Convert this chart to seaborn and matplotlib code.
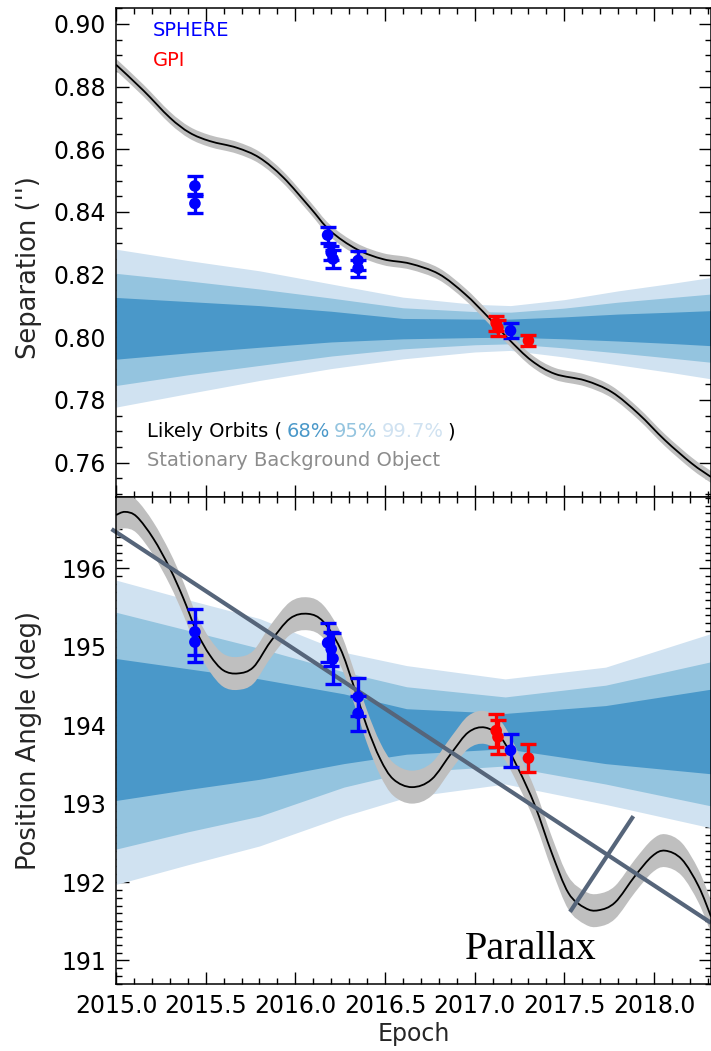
import numpy as np
import pandas as pd
import matplotlib
matplotlib.use("Agg")
import matplotlib.pyplot as plt
import seaborn as sns
from matplotlib.path import Path
from matplotlib.patches import PathPatch
from matplotlib.ticker import MultipleLocator, FormatStrFormatter
from matplotlib.offsetbox import TextArea, HPacker, AnchoredOffsetbox

# ---------------- data ----------------
# Stationary background object track: separation (arcsec)
sep_bg_epoch = [2015.0, 2015.152, 2015.30, 2015.41, 2015.524, 2015.673, 2015.80, 2015.933,
                2016.082, 2016.194, 2016.342, 2016.491, 2016.64, 2016.80, 2016.946, 2017.076,
                2017.188, 2017.318, 2017.448, 2017.616, 2017.765, 2017.913, 2018.062,
                2018.211, 2018.318]
sep_bg = [0.8870, 0.8788, 0.8701, 0.8653, 0.8626, 0.8605, 0.8573, 0.8510,
          0.8414, 0.8340, 0.8281, 0.8249, 0.8235, 0.8202, 0.8138, 0.8064,
          0.7995, 0.7925, 0.7883, 0.7862, 0.7825, 0.7756, 0.7671,
          0.7597, 0.7554]
sep_bg_halfwidth = 0.0019

# Stationary background object track: position angle (deg)
pa_bg_epoch = [2015.0, 2015.05, 2015.115, 2015.208, 2015.30, 2015.375, 2015.45, 2015.524,
               2015.598, 2015.68, 2015.766, 2015.86, 2015.97, 2016.07, 2016.156, 2016.25,
               2016.324, 2016.398, 2016.473, 2016.547, 2016.65, 2016.76, 2016.872, 2016.965,
               2017.058, 2017.15, 2017.244, 2017.337, 2017.43, 2017.523, 2017.616, 2017.69,
               2017.783, 2017.895, 2017.99, 2018.062, 2018.155, 2018.248, 2018.318]
pa_bg = [196.68, 196.72, 196.66, 196.38, 196.00, 195.62, 195.19, 194.89,
         194.70, 194.66, 194.74, 195.06, 195.36, 195.42, 195.32, 194.98,
         194.51, 193.99, 193.57, 193.31, 193.21, 193.31, 193.65, 193.91,
         193.97, 193.83, 193.44, 192.97, 192.37, 191.86, 191.67, 191.64,
         191.74, 192.08, 192.33, 192.40, 192.29, 191.95, 191.56]
pa_bg_halfwidth = 0.21

# Likely-orbit envelopes (68 / 95 / 99.7 %) for separation
sep_band_epoch = [2015.0, 2015.4, 2015.8, 2016.2, 2016.6, 2017.0, 2017.2, 2017.5, 2017.8, 2018.1, 2018.32]
sep_997_hi = [0.8281, 0.8245, 0.8212, 0.8170, 0.8128, 0.8105, 0.8101, 0.8120, 0.8148, 0.8172, 0.8191]
sep_95_hi  = [0.8204, 0.8180, 0.8154, 0.8125, 0.8094, 0.8082, 0.8080, 0.8093, 0.8112, 0.8127, 0.8138]
sep_68_hi  = [0.8127, 0.8114, 0.8101, 0.8083, 0.8060, 0.8058, 0.8058, 0.8065, 0.8074, 0.8080, 0.8085]
sep_68_lo  = [0.7930, 0.7950, 0.7968, 0.7985, 0.7995, 0.7999, 0.8000, 0.7995, 0.7988, 0.7980, 0.7973]
sep_95_lo  = [0.7846, 0.7880, 0.7910, 0.7940, 0.7963, 0.7976, 0.7979, 0.7966, 0.7950, 0.7933, 0.7920]
sep_997_lo = [0.7777, 0.7820, 0.7862, 0.7900, 0.7931, 0.7953, 0.7958, 0.7937, 0.7912, 0.7887, 0.7867]

# Likely-orbit envelopes for position angle
pa_band_epoch = [2015.0, 2015.4, 2015.8, 2016.27, 2016.62, 2017.17, 2017.73, 2018.32]
pa_997_hi = [195.85, 195.60, 195.36, 194.93, 194.76, 194.59, 194.74, 195.17]
pa_95_hi  = [195.44, 195.21, 194.98, 194.68, 194.49, 194.36, 194.51, 194.81]
pa_68_hi  = [194.85, 194.72, 194.59, 194.40, 194.21, 194.15, 194.25, 194.46]
pa_68_lo  = [193.04, 193.18, 193.31, 193.51, 193.63, 193.70, 193.51, 193.38]
pa_95_lo  = [192.42, 192.64, 192.84, 193.21, 193.40, 193.48, 193.25, 192.97]
pa_997_lo = [191.97, 192.22, 192.46, 192.84, 193.08, 193.25, 192.99, 192.69]

# Astrometry
sphere_epoch = [2015.44, 2015.44, 2016.18, 2016.20, 2016.21, 2016.35, 2016.35, 2017.20]
sphere_sep = [0.8483, 0.8427, 0.8326, 0.8270, 0.8250, 0.8245, 0.8220, 0.8021]
sphere_sep_err = [0.0032, 0.0030, 0.0026, 0.0022, 0.0030, 0.0030, 0.0028, 0.0025]
sphere_pa = [195.19, 195.06, 195.05, 194.97, 194.85, 194.36, 194.15, 193.68]
sphere_pa_err = [0.29, 0.25, 0.25, 0.22, 0.32, 0.24, 0.22, 0.21]

gpi_epoch = [2017.12, 2017.13, 2017.30]
gpi_sep = [0.8045, 0.8030, 0.7989]
gpi_sep_err = [0.0024, 0.0025, 0.0018]
gpi_pa = [193.93, 193.85, 193.58]
gpi_pa_err = [0.21, 0.22, 0.18]

# Parallax annotation: linear proper-motion trend and the perpendicular marker
trend_epoch = [2014.975, 2018.318]
trend_pa = [196.50, 191.48]
marker_epoch = [2017.532, 2017.885]
marker_pa = [191.62, 192.84]

# ---------------- style ----------------
sns.set_theme(style="ticks")
plt.rcParams['font.family'] = ['DejaVu Sans']
plt.rcParams['axes.linewidth'] = 1.1

C68, C95, C997 = '#4a98c9', '#94c4df', '#d0e2f1'
BG_BAND = '#bfbfbf'
SLATE = '#56657a'

fig = plt.figure(figsize=(7.11, 10.51), dpi=100)
fig.patch.set_facecolor('white')
ax1 = fig.add_axes([0.1632, 0.5271, 0.8368, 0.4653])
ax2 = fig.add_axes([0.1632, 0.06375, 0.8368, 0.4634])


def smooth_segments(x, y):
    """Cubic Bezier segments passing through every (x, y) knot (Catmull-Rom tangents)."""
    P = np.column_stack([x, y]).astype(float)
    n = len(P)
    verts, codes = [P[0]], [Path.MOVETO]
    for i in range(n - 1):
        p0 = P[i - 1] if i > 0 else P[i]
        p1, p2 = P[i], P[i + 1]
        p3 = P[i + 2] if i + 2 < n else P[i + 1]
        verts += [p1 + (p2 - p0) / 6.0, p2 - (p3 - p1) / 6.0, p2]
        codes += [Path.CURVE4] * 3
    return verts, codes


def draw_envelopes(ax, ep, hi997, hi95, hi68, lo68, lo95, lo997):
    ax.fill_between(ep, lo997, hi997, color=C997, lw=0, zorder=1)
    ax.fill_between(ep, lo95, hi95, color=C95, lw=0, zorder=1.1)
    ax.fill_between(ep, lo68, hi68, color=C68, lw=0, zorder=1.2)


def draw_track(ax, ep, val, hw):
    v = np.asarray(val, dtype=float)
    e = np.asarray(ep, dtype=float)
    up_v, up_c = smooth_segments(e, v + hw)
    lo_v, lo_c = smooth_segments(e[::-1], (v - hw)[::-1])
    lo_c[0] = Path.LINETO
    band = Path(up_v + lo_v + [up_v[0]], up_c + lo_c + [Path.CLOSEPOLY])
    ax.add_patch(PathPatch(band, facecolor=BG_BAND, edgecolor='none', zorder=2))
    ln_v, ln_c = smooth_segments(e, v)
    ax.add_patch(PathPatch(Path(ln_v, ln_c), facecolor='none', edgecolor='black',
                           lw=1.3, zorder=3, capstyle='butt'))


def draw_points(ax, ep, val, err, color):
    ax.errorbar(ep, val, yerr=err, fmt='none', ecolor=color, elinewidth=2.4,
                capsize=6, capthick=2.4, zorder=5)
    sns.scatterplot(x=ep, y=val, ax=ax, color=color, s=70, edgecolor='none',
                    linewidth=0, zorder=6, legend=False)


# ---- separation panel ----
draw_envelopes(ax1, sep_band_epoch, sep_997_hi, sep_95_hi, sep_68_hi, sep_68_lo, sep_95_lo, sep_997_lo)
draw_track(ax1, sep_bg_epoch, sep_bg, sep_bg_halfwidth)
draw_points(ax1, sphere_epoch, sphere_sep, sphere_sep_err, '#0000ff')
draw_points(ax1, gpi_epoch, gpi_sep, gpi_sep_err, '#ff0000')

# ---- position angle panel ----
draw_envelopes(ax2, pa_band_epoch, pa_997_hi, pa_95_hi, pa_68_hi, pa_68_lo, pa_95_lo, pa_997_lo)
draw_track(ax2, pa_bg_epoch, pa_bg, pa_bg_halfwidth)
sns.lineplot(x=trend_epoch, y=trend_pa, ax=ax2, color=SLATE, lw=3, zorder=4,
             estimator=None, sort=False)
ax2.lines[-1].set_clip_on(False)
ax2.lines[-1].set_solid_capstyle('butt')
sns.lineplot(x=marker_epoch, y=marker_pa, ax=ax2, color=SLATE, lw=3, zorder=4,
             estimator=None, sort=False)
ax2.lines[-1].set_solid_capstyle('butt')
draw_points(ax2, sphere_epoch, sphere_pa, sphere_pa_err, '#0000ff')
draw_points(ax2, gpi_epoch, gpi_pa, gpi_pa_err, '#ff0000')

# ---- axes ----
for ax in (ax1, ax2):
    ax.set_xlim(2015.0, 2018.318)
    ax.xaxis.set_major_locator(MultipleLocator(0.5))
    ax.xaxis.set_minor_locator(MultipleLocator(0.1))
    ax.xaxis.set_major_formatter(FormatStrFormatter('%.1f'))
    ax.tick_params(which='both', direction='in', top=True, right=True, colors='black',
                   labelsize=17, width=1.0)
    ax.tick_params(which='major', length=9, pad=7)
    ax.tick_params(which='minor', length=4.5)
    for s in ax.spines.values():
        s.set_color('black')
        s.set_zorder(10)
    ax.set_facecolor('white')

ax1.set_ylim(0.749, 0.9051)
ax1.yaxis.set_major_locator(MultipleLocator(0.02))
ax1.yaxis.set_minor_locator(MultipleLocator(0.005))
ax1.yaxis.set_major_formatter(FormatStrFormatter('%.2f'))
ax1.tick_params(labelbottom=False)
ax1.set_xlabel('')
ax1.set_ylabel("Separation ('')", fontsize=18.5)
ax1.yaxis.set_label_coords(-0.124, 0.47)

ax2.set_ylim(190.70, 196.91)
ax2.yaxis.set_major_locator(MultipleLocator(1))
ax2.yaxis.set_minor_locator(MultipleLocator(0.1))
ax2.yaxis.set_major_formatter(FormatStrFormatter('%d'))
ax2.set_ylabel('Position Angle (deg)', fontsize=18.5)
ax2.yaxis.set_label_coords(-0.124, 0.5)
ax2.set_xlabel('Epoch', fontsize=17, labelpad=3)

# ---- annotations ----
ax1.text(0.062, 0.954, 'SPHERE', color='#0000ff', fontsize=14, transform=ax1.transAxes,
         ha='left', va='center')
ax1.text(0.062, 0.893, 'GPI', color='#ff0000', fontsize=14, transform=ax1.transAxes,
         ha='left', va='center')

parts = [('Likely Orbits (', 'black'), ('68%', C68), ('95%', C95), ('99.7%', C997), (')', 'black')]
boxes = [TextArea(t, textprops=dict(color=c, fontsize=14)) for t, c in parts]
packed = HPacker(children=boxes, align='baseline', pad=0, sep=3)
anchored = AnchoredOffsetbox(loc='center left', child=packed, pad=0, borderpad=0, frameon=False,
                             bbox_to_anchor=(0.052, 0.133), bbox_transform=ax1.transAxes)
ax1.add_artist(anchored)
ax1.text(0.052, 0.074, 'Stationary Background Object', color='#8c8c8c', fontsize=14,
         transform=ax1.transAxes, ha='left', va='center')

ax2.text(2016.946, 191.02, 'Parallax', fontsize=29, family='Liberation Serif',
         color='black', ha='left', va='baseline', zorder=7)

fig.savefig('out.png', dpi=100, facecolor='white')
